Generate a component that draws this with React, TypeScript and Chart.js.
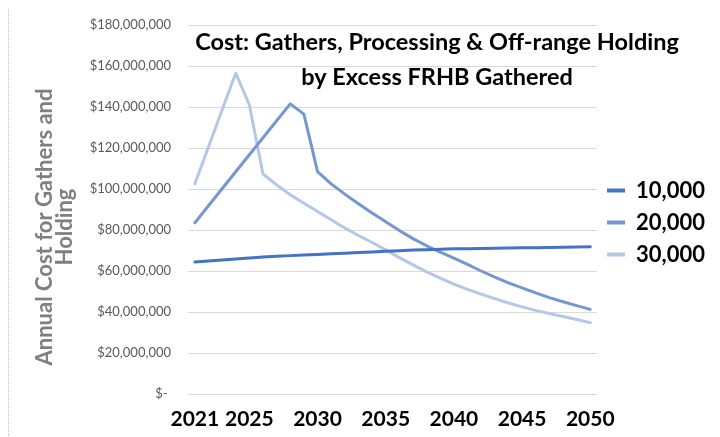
import React, { useEffect, useRef } from 'react';
import { Chart, registerables } from 'chart.js';

Chart.register(...registerables);

// Categories (years)
const years = [
  '2021', '2022', '2023', '2024', '2025', '2026', '2027', '2028', '2029', '2030',
  '2031', '2032', '2033', '2034', '2035', '2036', '2037', '2038', '2039', '2040',
  '2041', '2042', '2043', '2044', '2045', '2046', '2047', '2048', '2049', '2050',
];
// Year labels that are shown on the x axis
const shownYears = ['2021', '2025', '2030', '2035', '2040', '2045', '2050'];

const seriesNames = ['10,000', '20,000', '30,000'];

// Annual cost, in millions of dollars
const cost10k = [
  64.4, 64.9, 65.4, 65.9, 66.4, 66.8, 67.2, 67.5, 67.8, 68.1,
  68.4, 68.7, 69.0, 69.3, 69.6, 69.9, 70.2, 70.4, 70.6, 70.8,
  70.9, 71.0, 71.1, 71.2, 71.3, 71.4, 71.5, 71.6, 71.7, 71.8,
];
const cost20k = [
  83.5, 91.8, 100.1, 108.4, 116.7, 125.0, 133.3, 141.5, 136.5, 108.5,
  102.5, 97.5, 92.8, 88.3, 84.0, 79.8, 75.8, 72.3, 69.2, 66.3,
  63.2, 60.0, 57.0, 54.2, 51.8, 49.3, 47.0, 45.0, 43.1, 41.3,
];
const cost30k = [
  102.5, 120.5, 138.5, 156.5, 141.0, 107.3, 102.0, 97.2, 93.0, 89.0,
  85.0, 81.0, 77.3, 73.9, 70.3, 66.5, 63.0, 59.6, 56.5, 53.6,
  51.0, 48.7, 46.5, 44.4, 42.5, 40.8, 39.3, 37.8, 36.3, 34.8,
];

// Y axis (millions)
const yMin = 0;
const yMax = 180;
const yStep = 20;

const titleLines = ['Cost: Gathers, Processing & Off-range Holding', 'by Excess FRHB Gathered'];
const yTitleLines = ['Annual Cost for Gathers and', 'Holding'];

const colors = ['#4472c4', '#7597cf', '#b4c7e7'];

const FONT = 'Lato, "Open Sans", sans-serif';

const textPlugin = {
  id: 'customTexts',
  afterDraw(chart: any) {
    const { ctx } = chart;
    ctx.save();
    // Chart title
    ctx.fillStyle = '#000000';
    ctx.font = `bold 23.5px ${FONT}`;
    ctx.textAlign = 'center';
    ctx.textBaseline = 'alphabetic';
    ctx.fillText(titleLines[0], 428, 44);
    ctx.fillText(titleLines[1], 428, 79);
    // Y axis title
    ctx.translate(36, 221);
    ctx.rotate(-Math.PI / 2);
    ctx.fillStyle = '#7f7f7f';
    ctx.font = `bold 22px ${FONT}`;
    ctx.textBaseline = 'middle';
    ctx.fillText(yTitleLines[0], 0, 0);
    ctx.fillText(yTitleLines[1], 0, 20);
    ctx.restore();
  },
};

export default function App() {
  const canvasRef = useRef<HTMLCanvasElement | null>(null);

  useEffect(() => {
    if (!canvasRef.current) return;
    const series = [cost10k, cost20k, cost30k];
    const chart = new Chart(canvasRef.current, {
      type: 'line',
      data: {
        labels: years,
        datasets: series.map((data, i) => ({
          label: seriesNames[i],
          data,
          borderColor: colors[i],
          backgroundColor: colors[i],
          borderWidth: 3,
          pointRadius: 0,
          pointHoverRadius: 0,
          tension: 0,
          borderJoinStyle: 'round' as const,
          borderCapStyle: 'round' as const,
        })),
      },
      options: {
        responsive: false,
        animation: false,
        layout: { padding: { left: 0, right: 0, top: 19, bottom: 0 } },
        plugins: {
          title: { display: false },
          tooltip: { enabled: false },
          legend: {
            position: 'right',
            align: 'center',
            fullSize: false,
            title: { display: true, text: ' ', padding: 5.8, font: { size: 12 } },
            labels: {
              boxWidth: 18,
              boxHeight: 4,
              padding: 10,
              color: '#000000',
              font: { family: FONT, weight: 'bold', size: 22 },
              generateLabels(chart: any) {
                const items = Chart.defaults.plugins.legend.labels.generateLabels(chart);
                return items.map((it: any) => ({
                  ...it,
                  lineWidth: 0,
                  strokeStyle: 'rgba(0,0,0,0)',
                  fillStyle: colors[it.datasetIndex],
                }));
              },
            },
          },
        },
        scales: {
          x: {
            type: 'category',
            offset: true,
            grid: { display: false, drawTicks: false },
            border: { display: false },
            ticks: {
              autoSkip: false,
              maxRotation: 0,
              minRotation: 0,
              padding: 13,
              color: '#000000',
              font: { family: FONT, weight: 'bold', size: 21 },
              callback(value: any) {
                const lbl = years[value as number];
                return shownYears.includes(lbl) ? lbl : '';
              },
            },
            afterFit(scale: any) {
              scale.height = 43;
            },
          },
          y: {
            min: yMin,
            max: yMax,
            grid: { color: '#d9d9d9', lineWidth: 1, drawTicks: false },
            border: { display: false },
            ticks: {
              stepSize: yStep,
              padding: 17,
              color: '#595959',
              font: { family: FONT, size: 13 },
              callback(value: any) {
                const v = Number(value);
                if (v === 0) return '$- ';
                return '$' + (v * 1000000).toLocaleString('en-US');
              },
            },
            afterFit(scale: any) {
              scale.width = 179;
              scale.paddingTop = 8;
              scale.paddingBottom = 8;
            },
          },
        },
      },
      plugins: [textPlugin],
    });
    return () => chart.destroy();
  }, []);

  return (
    <div
      style={{
        marginTop: -3,
        width: 709,
        height: 437,
        border: '1px dotted #c0c0c0',
        boxSizing: 'border-box',
        position: 'relative',
        overflow: 'hidden',
      }}
    >
      <canvas ref={canvasRef} width={706} height={431} style={{ display: 'block' }} />
    </div>
  );
}
